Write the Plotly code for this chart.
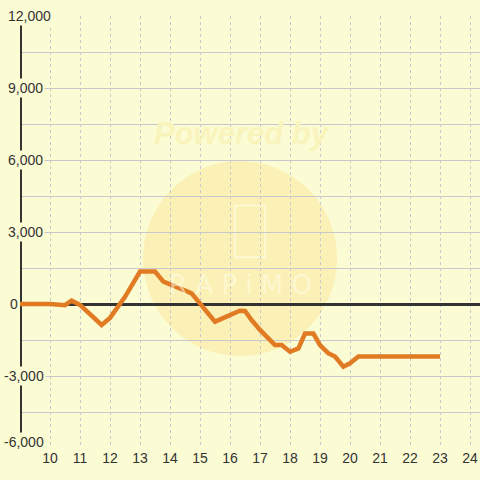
import plotly.graph_objects as go

hours = [9, 10, 10.5, 10.72, 11, 11.72, 12, 12.5, 13, 13.5, 13.78, 14, 14.33, 14.72,
         15, 15.28, 15.5, 16.33, 16.5, 16.72, 17, 17.5, 17.72, 18, 18.28, 18.5, 18.78,
         19, 19.28, 19.5, 19.78, 20, 20.28, 23]
values = [0, 0, -50, 140, -40, -875, -580, 300, 1350, 1350, 930, 830, 650, 445,
          30, -390, -735, -280, -290, -670, -1080, -1710, -1710, -1990, -1850, -1230, -1230,
          -1710, -2055, -2190, -2610, -2470, -2190, -2190]

x_ticks = list(range(10, 25))
y_ticks = [12000, 9000, 6000, 3000, 0, -3000, -6000]
y_labels = ["12,000", "9,000", "6,000", "3,000", "0", "-3,000", "-6,000"]

BG = "#fcfcd4"
TXT = "#333333"

fig = go.Figure()
fig.add_trace(go.Scatter(x=hours, y=values, mode="lines",
                         line=dict(color="#e07b24", width=4.5), hoverinfo="skip"))

shapes = []
# watermark circle
shapes.append(dict(type="circle", xref="x", yref="y", x0=13.1, x1=19.57, y0=-2170, y1=5960,
                   fillcolor="#fbf1b6", line=dict(width=0), layer="below"))
# phone outline in watermark
shapes.append(dict(type="rect", xref="x", yref="y", x0=16.17, x1=17.17, y0=1950, y1=4100,
                   fillcolor="rgba(0,0,0,0)", line=dict(color="rgba(255,255,235,0.7)", width=1.5),
                   layer="below"))
# vertical y-axis line
shapes.append(dict(type="line", xref="x", yref="y", x0=9, x1=9, y0=-6000, y1=12000,
                   line=dict(color=TXT, width=4), layer="between"))
fig.update_layout(shapes=shapes)

annotations = [
    dict(text="<b><i>Powered by</i></b>", xref="x", yref="y", x=16.4, y=7100, showarrow=False,
         font=dict(family="Liberation Sans", size=31, color="#f9f3bc"), xanchor="center",
         yanchor="middle"),
    dict(text="R A P i M O", xref="x", yref="y", x=16.35, y=800, showarrow=False,
         font=dict(family="DejaVu Sans", size=26, color="rgba(255,255,235,0.5)"),
         xanchor="center", yanchor="middle"),
]
for v, lab in zip(y_ticks, y_labels):
    if lab.startswith("-"):
        xx = 2
    elif lab == "0":
        xx = 8
    else:
        xx = 6
    yy = v if v != -6000 else -5760
    annotations.append(dict(text=lab, xref="paper", yref="y", x=(xx - 20) / 460, y=yy,
                            xanchor="left", yanchor="middle", showarrow=False,
                            bgcolor=BG, borderpad=1,
                            font=dict(family="Liberation Sans", size=14, color=TXT)))
fig.update_layout(annotations=annotations)

fig.update_layout(
    width=480, height=480,
    margin=dict(l=20, r=0, t=16, b=32),
    paper_bgcolor=BG, plot_bgcolor=BG,
    showlegend=False,
    xaxis=dict(range=[9, 9 + 460 / 30], tickvals=x_ticks, ticktext=[str(t) for t in x_ticks],
               showgrid=True, gridcolor="#c8c8cc", griddash="3px,3px", gridwidth=1,
               zeroline=False, showline=False, ticks="",
               tickfont=dict(family="Liberation Sans", size=14, color=TXT)),
    yaxis=dict(range=[-6000, 12000], dtick=1500, tick0=0, showticklabels=False,
               showgrid=True, gridcolor="#c8c8cc", gridwidth=1,
               zeroline=True, zerolinecolor=TXT, zerolinewidth=3, showline=False, ticks=""),
)

fig.write_html("out.html", config={"displayModeBar": False},
               post_script="document.body.style.margin='0px';document.body.style.overflow='hidden';")
